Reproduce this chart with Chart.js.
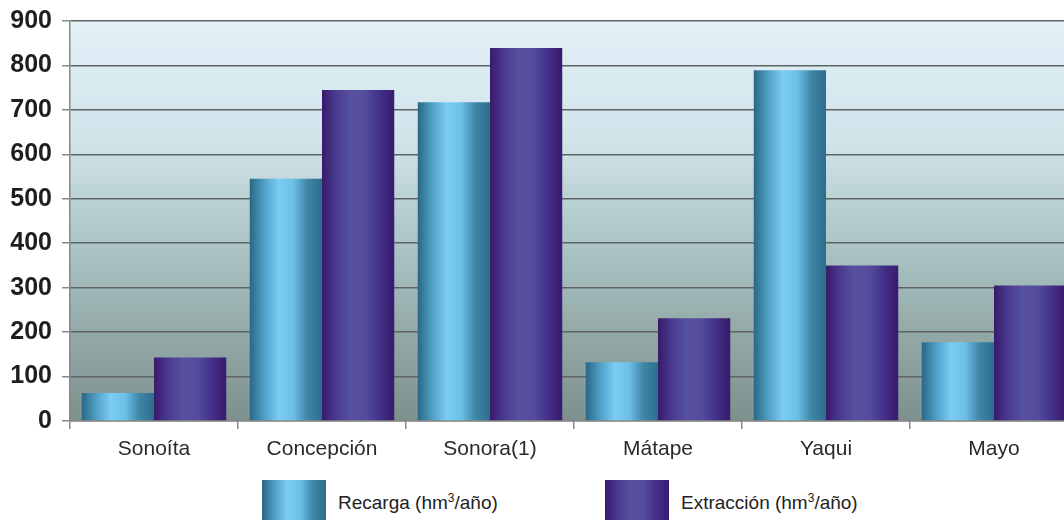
<!DOCTYPE html>
<html>
<head>
<meta charset="utf-8">
<script src="https://cdn.jsdelivr.net/npm/chart.js@4.4.1/dist/chart.umd.min.js"></script>
<style>
  html, body { margin: 0; padding: 0; background: #fff; }
  #wrap { position: relative; width: 1064px; height: 520px; overflow: hidden; }
  #box { position: absolute; left: 0; top: -4px; width: 1080px; height: 474px; }
  #legend { position: absolute; top: 480px; left: 0; width: 1064px; font-family: "Liberation Sans", Arial, sans-serif; font-size: 19px; color: #222; }
  .item { position: absolute; top: 0; height: 44px; }
  .swatch { position: absolute; left: 0; top: 0; width: 64px; height: 44px; }
  .label { position: absolute; left: 76px; top: 11px; white-space: nowrap; }
</style>
</head>
<body>
<div id="wrap">
  <div id="box"><canvas id="grafica"></canvas></div>
  <div id="legend"></div>
</div>
<script>
var cuencas = ["Sonoíta", "Concepción", "Sonora(1)", "Mátape", "Yaqui", "Mayo"];
var recarga = [63, 545, 717, 132, 789, 177];
var extraccion = [143, 745, 839, 231, 350, 305];
var escalaY = [0, 100, 200, 300, 400, 500, 600, 700, 800, 900];

var coloresRecarga = ["#2a6785", "#4f9fc6", "#7ccdf3", "#6cc0e8", "#3e85a6", "#2d6e8d"];
var coloresExtraccion = ["#391a6c", "#4a3b90", "#5751a0", "#544c9c", "#43308a", "#381a6c"];

var catPct = 0.86;

// horizontal shading across each single bar
function degradado(context, colores) {
  var chart = context.chart;
  var x = chart.scales.x;
  if (!x || !chart.chartArea || context.dataIndex === undefined) return colores[2];
  var i = context.dataIndex;
  var centro = x.getPixelForValue(i);
  var ancho = (x.width / cuencas.length) * catPct / 2;
  var x0 = context.datasetIndex === 0 ? centro - ancho : centro;
  var g = chart.ctx.createLinearGradient(x0, 0, x0 + ancho, 0);
  for (var k = 0; k < colores.length; k++) {
    g.addColorStop(k / (colores.length - 1), colores[k]);
  }
  return g;
}

function cssDegradado(colores) {
  var partes = [];
  for (var k = 0; k < colores.length; k++) {
    partes.push(colores[k] + " " + Math.round(k / (colores.length - 1) * 100) + "%");
  }
  return "linear-gradient(to right, " + partes.join(", ") + ")";
}

var fondo = {
  id: "fondo",
  beforeDraw: function (chart) {
    var a = chart.chartArea;
    var ctx = chart.ctx;
    var g = ctx.createLinearGradient(0, a.top, 0, a.bottom);
    g.addColorStop(0, "#e3f0f8");
    g.addColorStop(0.3, "#d0e4ea");
    g.addColorStop(0.55, "#acc5c6");
    g.addColorStop(0.78, "#93a9a8");
    g.addColorStop(1, "#7d908e");
    ctx.save();
    ctx.fillStyle = g;
    ctx.fillRect(a.left, a.top, a.right - a.left, a.bottom - a.top);
    ctx.restore();
  }
};

function inicializar() {
  new Chart(document.getElementById("grafica"), {
    type: "bar",
    data: {
      labels: cuencas,
      datasets: [
        {
          label: "Recarga (hm³/año)",
          data: recarga,
          backgroundColor: function (c) { return degradado(c, coloresRecarga); },
          borderWidth: 0,
          categoryPercentage: catPct,
          barPercentage: 1
        },
        {
          label: "Extracción (hm³/año)",
          data: extraccion,
          backgroundColor: function (c) { return degradado(c, coloresExtraccion); },
          borderWidth: 0,
          categoryPercentage: catPct,
          barPercentage: 1
        }
      ]
    },
    options: {
      responsive: true,
      maintainAspectRatio: false,
      animation: false,
      layout: { padding: { top: 6, right: 2, left: 0, bottom: 0 } },
      plugins: {
        legend: { display: false },
        tooltip: { enabled: false }
      },
      scales: {
        x: {
          afterFit: function (s) { s.height = 49; },
          grid: {
            offset: true,
            drawOnChartArea: false,
            tickLength: 8,
            color: "#888",
            lineWidth: 1.5
          },
          border: { color: "#888", width: 1.5 },
          ticks: {
            color: "#2a2a2a",
            padding: 8,
            font: { family: "'Liberation Sans', Arial, sans-serif", size: 21 }
          }
        },
        y: {
          min: 0,
          max: 900,
          afterFit: function (s) { s.width = 70; },
          afterBuildTicks: function (s) {
            s.ticks = escalaY.map(function (v) { return { value: v }; });
          },
          grid: {
            color: "#5e6463",
            lineWidth: 1.5,
            tickLength: 8,
            tickColor: "#888"
          },
          border: { color: "#888", width: 1.5 },
          ticks: {
            color: "#1e1e1e",
            padding: 10,
            font: { family: "'Liberation Sans', Arial, sans-serif", size: 25, weight: "bold" }
          }
        }
      }
    },
    plugins: [fondo]
  });

  // legend below the plot
  var legend = document.getElementById("legend");
  var items = [
    { texto: "Recarga (hm<sup style='font-size:12px'>3</sup>/año)", colores: coloresRecarga, x: 262 },
    { texto: "Extracción (hm<sup style='font-size:12px'>3</sup>/año)", colores: coloresExtraccion, x: 605 }
  ];
  var html = "";
  for (var i = 0; i < items.length; i++) {
    html += "<div class='item' style='left:" + items[i].x + "px'>"
      + "<div class='swatch' style='background:" + cssDegradado(items[i].colores) + "'></div>"
      + "<div class='label'>" + items[i].texto + "</div></div>";
  }
  legend.innerHTML = html;
}

window.onload = inicializar;
</script>
</body>
</html>
